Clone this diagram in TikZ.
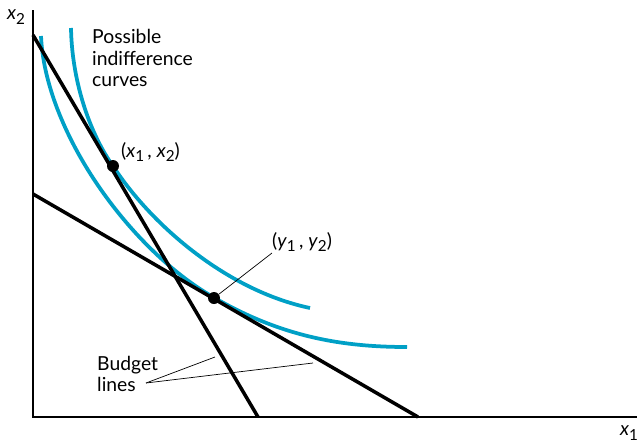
\documentclass[tikz,border=0pt]{standalone}
\usepackage{fontspec}
\setmainfont{Lato}
\definecolor{azulcurva}{RGB}{0,160,198}
\newcommand{\varsub}[2]{\textit{#1}\raisebox{-0.45ex}{\fontsize{13}{13}\selectfont #2}}

\begin{document}
\begin{tikzpicture}[x=0.03cm,y=-0.03cm,
  every node/.style={font=\fontsize{16.5}{18.5}\selectfont,inner sep=0pt},
  eje/.style={line width=2.2pt},
  presup/.style={line width=3pt},
  indif/.style={line width=3.2pt,draw=azulcurva},
  punto/.style={circle,fill=black,minimum size=0.36cm},
  guia/.style={line width=0.6pt}]
  \useasboundingbox (0,0) rectangle (638,443);

  % Curvas de indiferencia
  \draw[indif] (71,28) .. controls (72,85) and (92,137) .. (113,166)
    .. controls (150,223) and (225,290) .. (310,308);
  \draw[indif] (41,36) .. controls (45,130) and (128,248) .. (213,297)
    .. controls (280,336) and (340,347) .. (407,347);

  % Ejes
  \coordinate (o) at (33,417);
  \coordinate (ytop) at (33,10);
  \coordinate (xend) at (637,417);
  \draw[eje] (ytop) -- (o) -- (xend);
  \node (lx2) at (16,17) {\varsub{x}{2}};
  \node (lx1) at (629,433) {\varsub{x}{1}};

  % Rectas presupuestarias
  \coordinate (a1) at (33,35);
  \coordinate (a2) at (258,417);
  \coordinate (b1) at (33,194);
  \coordinate (b2) at (418,417);
  \foreach \from/\to in {a1/a2, b1/b2}
    \draw[presup] (\from) -- (\to);

  % Puntos
  \node[punto] (px) at (113,166) {};
  \node[punto] (py) at (214,298) {};
  \node[anchor=west] (lpx) at (121,152) {(\varsub{x}{1}\,, \varsub{x}{2})};
  \node[anchor=west] (lpy) at (272,242) {(\varsub{y}{1}\,, \varsub{y}{2})};
  \coordinate (gy) at (272,253);
  \draw[guia] (gy) -- (py);

  % Etiquetas
  \node[anchor=north west,align=left] (lind) at (92,29) {Possible\\indifference\\curves};
  \node[anchor=west,align=left] (lbud) at (97,374) {Budget\\lines};
  \coordinate (gb) at (146,383);
  \coordinate (g1) at (215,357);
  \coordinate (g2) at (313,363);
  \foreach \to in {g1, g2}
    \draw[guia] (gb) -- (\to);
\end{tikzpicture}
\end{document}
